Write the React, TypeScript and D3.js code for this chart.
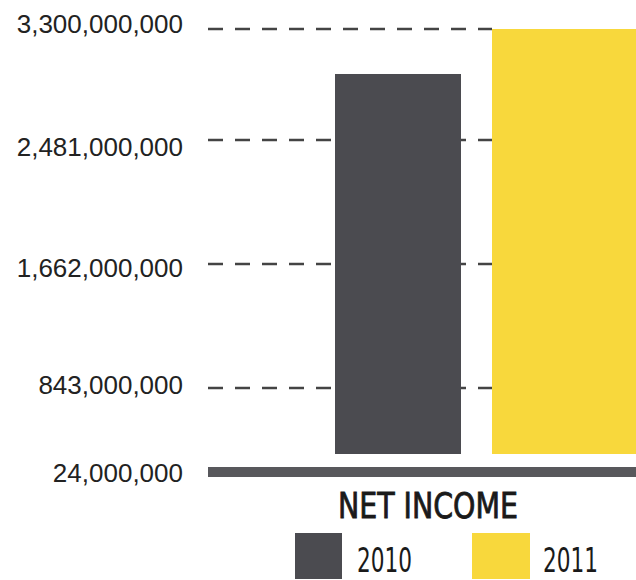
import React from "react";
import * as d3 from "d3";

const categories = ["2010", "2011"];
const netIncome = [2968000000, 3300000000];
const tickValues = [24000000, 843000000, 1662000000, 2481000000, 3300000000];
const tickLabels = ["24,000,000", "843,000,000", "1,662,000,000", "2,481,000,000", "3,300,000,000"];
const seriesTitle = "NET INCOME";
const colors = ["#4b4b50", "#f8d83c"];

const W = 636;
const H = 580;

export default function App() {
  // scanned infographic: tick spacing is not uniform, so use a piecewise linear scale
  const y = d3.scaleLinear().domain(tickValues).range([472, 388, 264, 140, 29]);
  const x = d3.scaleBand<string>().domain(categories).range([335, 618]).paddingInner(0.1975).paddingOuter(0);
  const baseY = y(tickValues[0]);
  const barBottom = baseY - 18;
  const labelFont = "'Liberation Sans', Arial, sans-serif";
  const condFont = "'Liberation Sans Narrow', 'DejaVu Sans Condensed', 'Liberation Sans', sans-serif";
  const labelOffsets = [1, -3, 4, 7, -5];
  const gridEnd = x(categories[categories.length - 1]) as number;

  return (
    <div style={{ position: "absolute", left: 0, top: 0 }}>
      <svg width={W} height={H} viewBox={`0 0 ${W} ${H}`} style={{ display: "block", background: "#fff" }}>
        <rect x={0} y={0} width={W} height={H} fill="#fff" />
        {/* dashed gridlines */}
        {tickValues.slice(1).map((t) => (
          <line
            key={"g" + t}
            x1={208}
            x2={gridEnd}
            y1={y(t)}
            y2={y(t)}
            stroke="#444"
            strokeWidth={2.5}
            strokeDasharray="15 12"
          />
        ))}
        {/* bars */}
        {categories.map((c, i) => {
          const x0 = x(c) as number;
          const x1 = i === categories.length - 1 ? W : x0 + x.bandwidth();
          const top = y(netIncome[i]);
          return <rect key={c} x={x0} y={top} width={x1 - x0} height={barBottom - top} fill={colors[i]} />;
        })}
        {/* baseline */}
        <rect x={208} y={baseY - 5} width={W - 208} height={10} fill="#58585c" />
        {/* tick labels */}
        {tickValues.map((t, i) => (
          <text
            key={"t" + t}
            x={183}
            y={y(t) + labelOffsets[i]}
            dy="0.35em"
            textAnchor="end"
            fontFamily={labelFont}
            fontSize={26}
            fill="#222"
          >
            {tickLabels[i]}
          </text>
        ))}
        {/* series title */}
        <text
          x={338}
          y={518}
          fontFamily={condFont}
          fontSize={35}
          fill="#1a1a1a"
          stroke="#1a1a1a"
          strokeWidth={0.8}
          textLength={180}
          lengthAdjust="spacingAndGlyphs"
        >
          {seriesTitle}
        </text>
        {/* legend */}
        {categories.map((c, i) => {
          const lx = [295, 472][i];
          return (
            <g key={"l" + c}>
              <rect x={lx} y={533} width={i === 0 ? 47 : 58} height={46} fill={colors[i]} />
              <text
                x={lx + (i === 0 ? 62 : 71)}
                y={572}
                fontFamily={condFont}
                fontSize={34}
                fill="#1a1a1a"
                textLength={55}
                lengthAdjust="spacingAndGlyphs"
              >
                {c}
              </text>
            </g>
          );
        })}
      </svg>
    </div>
  );
}
